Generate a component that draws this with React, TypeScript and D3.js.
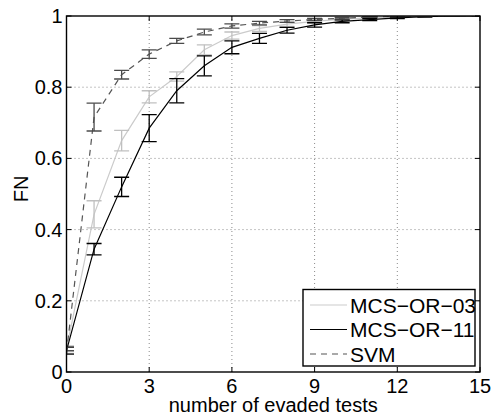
import React from "react";
import * as d3 from "d3";

// evaded tests (x) and FN means / half error bars for each classifier
const evaded = [0, 1, 2, 3, 4, 5, 6, 7, 8, 9, 10, 11, 12, 13, 14, 15];

const or03Mean = [0.065, 0.443, 0.65, 0.773, 0.83, 0.905, 0.945, 0.965, 0.977, 0.985, 0.991, 0.995, 0.998, 1.0, 1.0, 1.0];
const or03Err = [0.008, 0.038, 0.029, 0.017, 0.013, 0.014, 0.01, 0.008, 0.006, 0.004, 0.003, 0.002, 0.001, 0, 0, 0];

const or11Mean = [0.06, 0.345, 0.52, 0.685, 0.79, 0.86, 0.912, 0.937, 0.96, 0.975, 0.985, 0.99, 0.995, 0.998, 1.0, 1.0];
const or11Err = [0.01, 0.016, 0.027, 0.038, 0.034, 0.028, 0.018, 0.014, 0.008, 0.006, 0.004, 0.003, 0.002, 0.001, 0, 0];

const svmMean = [0.055, 0.716, 0.835, 0.893, 0.93, 0.955, 0.972, 0.98, 0.986, 0.99, 0.994, 0.997, 0.999, 1.0, 1.0, 1.0];
const svmErr = [0.005, 0.039, 0.012, 0.012, 0.007, 0.008, 0.006, 0.005, 0.004, 0.003, 0.002, 0.001, 0.001, 0, 0, 0];

const xTicks = [0, 3, 6, 9, 12, 15];
const yTicks = [0, 0.2, 0.4, 0.6, 0.8, 1];
const yTickLabels = ["0", "0.2", "0.4", "0.6", "0.8", "1"];

const legendNames = ["MCS\u2212OR\u221203", "MCS\u2212OR\u221211", "SVM"];

const width = 493;
const height = 416;
const margin = { top: 16, right: 13, bottom: 44, left: 66.5 };
const font = "'Liberation Sans', Arial, Helvetica, sans-serif";

const series = [
  { name: legendNames[0], mean: or03Mean, err: or03Err, color: "#cbcbcb", barColor: "#c0c0c0", dash: null },
  { name: legendNames[1], mean: or11Mean, err: or11Err, color: "#000", barColor: "#000", dash: null },
  { name: legendNames[2], mean: svmMean, err: svmErr, color: "#555", barColor: "#4a4a4a", dash: "6,5" },
];

const App = () => {
  const x = d3.scaleLinear().domain([0, 15]).range([margin.left, width - margin.right]);
  const y = d3.scaleLinear().domain([0, 1]).range([height - margin.bottom, margin.top]);
  const x0 = x.range()[0];
  const x1 = x.range()[1];
  const yb = y.range()[0];
  const yt = y.range()[1];

  const line = d3
    .line<number>()
    .x((_, i) => x(evaded[i]))
    .y((d) => y(d));

  const cap = 7.5;
  const tick = 5;

  return (
    <svg
      width={width}
      height={height}
      style={{ position: "absolute", left: 0, top: 0, background: "#fff" }}
      fontFamily={font}
    >
      <defs>
        <clipPath id="plot">
          <rect x={x0} y={yt} width={x1 - x0} height={yb - yt} />
        </clipPath>
      </defs>

      {/* grid */}
      {xTicks.slice(1, -1).map((t) => (
        <line key={"gx" + t} x1={x(t)} x2={x(t)} y1={yb} y2={yt} stroke="#8a8a8a" strokeWidth={1} strokeDasharray="1,3" />
      ))}
      {yTicks.slice(1, -1).map((t) => (
        <line key={"gy" + t} x1={x0} x2={x1} y1={y(t)} y2={y(t)} stroke="#8a8a8a" strokeWidth={1} strokeDasharray="1,3" />
      ))}

      {/* series */}
      <g clipPath="url(#plot)">
        {series.map((s) => (
          <g key={s.name}>
            <path d={line(s.mean) || ""} fill="none" stroke={s.color} strokeWidth={1.2} strokeDasharray={s.dash || undefined} />
            {s.mean.map((m, i) => {
              const cx = x(evaded[i]);
              const lo = y(m - s.err[i]);
              const hi = y(m + s.err[i]);
              return (
                <g key={i} stroke={s.barColor} strokeWidth={1.3}>
                  <line x1={cx} x2={cx} y1={lo} y2={hi} />
                  <line x1={cx - cap} x2={cx + cap} y1={lo} y2={lo} />
                  <line x1={cx - cap} x2={cx + cap} y1={hi} y2={hi} />
                </g>
              );
            })}
          </g>
        ))}
      </g>

      {/* axes box and ticks */}
      <rect x={x0} y={yt} width={x1 - x0} height={yb - yt} fill="none" stroke="#000" strokeWidth={1.4} />
      {xTicks.map((t) => (
        <g key={"xt" + t}>
          <line x1={x(t)} x2={x(t)} y1={yb} y2={yb - tick} stroke="#000" />
          <line x1={x(t)} x2={x(t)} y1={yt} y2={yt + tick} stroke="#000" />
          <text x={x(t)} y={yb + 21} textAnchor="middle" fontSize={20} fill="#000">
            {t}
          </text>
        </g>
      ))}
      {yTicks.map((t, i) => (
        <g key={"yt" + t}>
          <line x1={x0} x2={x0 + tick} y1={y(t)} y2={y(t)} stroke="#000" />
          <line x1={x1} x2={x1 - tick} y1={y(t)} y2={y(t)} stroke="#000" />
          <text x={x0 - 4} y={y(t)} dy="0.35em" textAnchor="end" fontSize={20} fill="#000">
            {yTickLabels[i]}
          </text>
        </g>
      ))}

      {/* axis labels */}
      <text x={(x0 + x1) / 2} y={412} textAnchor="middle" fontSize={20} fill="#000">
        number of evaded tests
      </text>
      <text transform={`translate(28,${(yt + yb) / 2 - 5}) rotate(-90)`} textAnchor="middle" fontSize={20} fill="#000">
        FN
      </text>

      {/* legend */}
      <g>
        <rect x={303} y={289.5} width={172} height={76.5} fill="#fff" stroke="#000" strokeWidth={1.4} />
        {series.map((s, i) => {
          const ly = 305 + i * 24.5;
          return (
            <g key={"lg" + i}>
              <line x1={310} x2={347} y1={ly} y2={ly} stroke={s.color} strokeWidth={1.2} strokeDasharray={s.dash || undefined} />
              <text x={350} y={ly} dy="0.36em" fontSize={21} fill="#000">
                {s.name}
              </text>
            </g>
          );
        })}
      </g>
    </svg>
  );
};

export default App;
